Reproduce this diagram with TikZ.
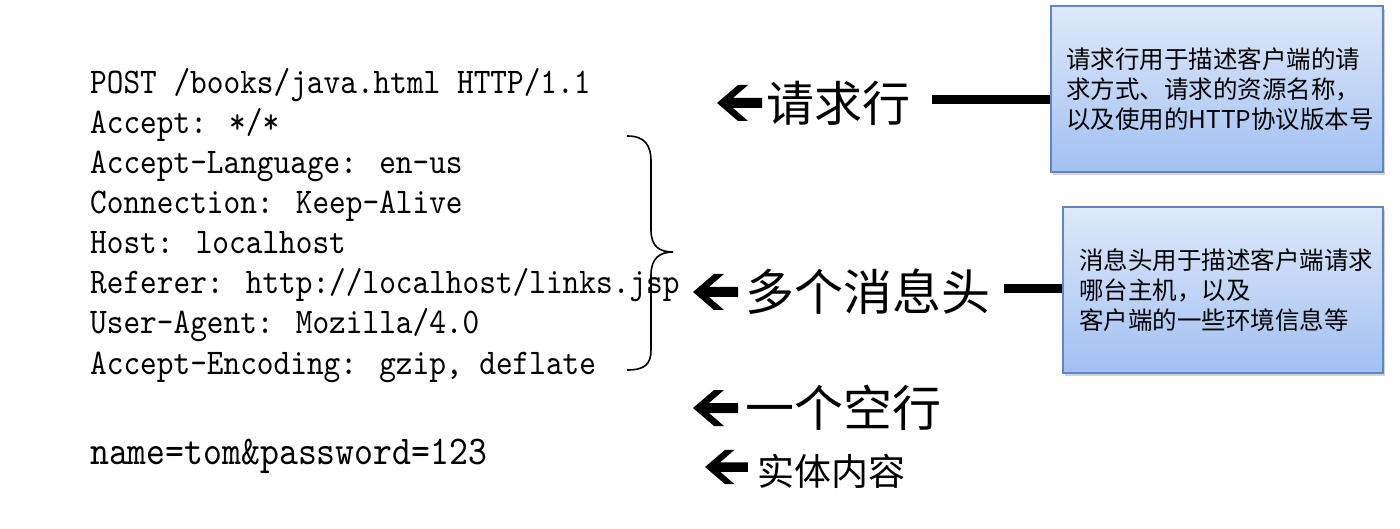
\documentclass[tikz,border=0pt]{standalone}
\usepackage{fontspec}
\newfontfamily\cjk{Noto Sans CJK SC}
\newfontfamily\codefont{lmmono10-regular.otf}[FakeStretch=0.88]
\usetikzlibrary{shadows}
\definecolor{boxtop}{HTML}{DEE9FA}
\definecolor{boxbot}{HTML}{A2C0F2}
\definecolor{boxline}{HTML}{5B87C6}
\tikzset{
  code/.style={anchor=base west, inner sep=0pt, font=\fontsize{36.1}{40}\selectfont\codefont},
  lab/.style={anchor=west, inner sep=0pt, font=\fontsize{48}{50}\selectfont\cjk},
  infobox/.style={draw=boxline, line width=2pt, top color=boxtop, bottom color=boxbot,
     drop shadow={opacity=0.35, shadow xshift=2pt, shadow yshift=-3pt}, anchor=north west, inner sep=0pt},
  boxtext/.style={anchor=west, inner sep=0pt, align=left, font=\fontsize{24.5}{30}\selectfont\cjk},
  conn/.style={line width=9pt, black},
}
\newcommand\blockarrow[3]{% tip x, tip y, scale
  \fill[black, shift={(#1,#2)}, scale=#3]
    (0,0) -- (21,-18) -- (31,-18) -- (16,-5) -- (45,-5) -- (45,5) -- (16,5) -- (31,18) -- (21,18) -- cycle;}
\begin{document}
\begin{tikzpicture}[x=1pt, y=-1pt]
\useasboundingbox (0,0) rectangle (1400,529);
% code lines
\node[code] (t1) at (90,94) {POST /books/java.html HTTP/1.1};
\node[code] (t2) at (90,134) {Accept: */*};
\node[code] (t3) at (90,174) {Accept-Language: en-us};
\node[code] (t4) at (90,214) {Connection: Keep-Alive};
\node[code] (t5) at (90,254) {Host: localhost};
\node[code] (t6) at (90,294) {Referer: http://localhost/links.jsp};
\node[code] (t7) at (90,334) {User-Agent: Mozilla/4.0};
\node[code] (t8) at (90,374) {Accept-Encoding: gzip, deflate};
\node[code, font=\fontsize{40.9}{44}\selectfont\codefont] (t9) at (90,464) {name=tom\&password=123};
% brace
\draw[line width=1.6pt] (627,136) .. controls (645,136) and (651,145) .. (651,162) -- (651,230)
  .. controls (651,247) and (660,252) .. (673,252)
  .. controls (660,252) and (651,258) .. (651,275) -- (651,350)
  .. controls (651,364) and (645,370) .. (627,370);
% labels
\blockarrow{717}{103}{1}
\node[lab] (l1) at (766,103) {请求行};
\blockarrow{693}{292}{1}
\node[lab, font=\fontsize{49}{50}\selectfont\cjk] (l2) at (745,292) {多个消息头};
\blockarrow{693}{408}{1}
\node[lab, font=\fontsize{49}{50}\selectfont\cjk] (l3) at (745,408) {一个空行};
\blockarrow{705}{467}{0.95}
\node[lab, font=\fontsize{37}{40}\selectfont\cjk] (l4) at (757,471) {实体内容};
% boxes
\node[infobox, minimum width=332pt, minimum height=166pt] (box1) at (1050,5) {};
\node[boxtext] (d1) at (1066,89) {请求行用于描述客户端的请\\求方式、请求的资源名称，\\以及使用的HTTP协议版本号};
\node[infobox, minimum width=320pt, minimum height=166pt] (box2) at (1062,206) {};
\node[boxtext] (d2) at (1079,290) {消息头用于描述客户端请求\\哪台主机，以及\\客户端的一些环境信息等};
% connectors
\coordinate (c1) at ([xshift=22pt, yshift=3pt]l1.east);
\coordinate (c2) at ([xshift=14pt, yshift=3pt]l2.east);
\draw[conn] (c1) -- (c1 -| box1.west);
\draw[conn] (c2) -- (c2 -| box2.west);
\end{tikzpicture}
\end{document}
